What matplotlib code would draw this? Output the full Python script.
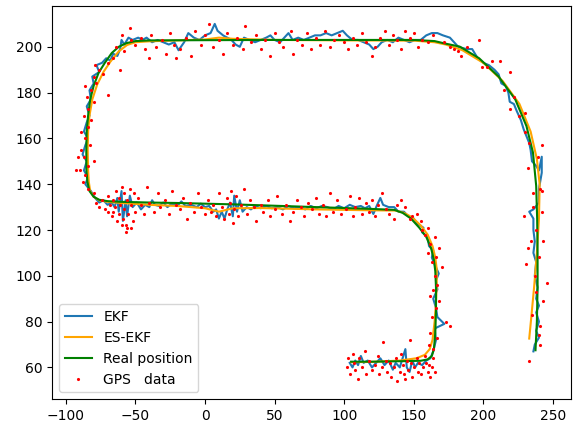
import matplotlib
matplotlib.use("Agg")
import matplotlib.pyplot as plt

# ground truth trajectory (x, y)
real_pts = [(105, 62.5), (120, 62.5), (140, 62.7), (155, 62.9), (160, 63.5), (163, 65), (164.5, 68),
            (165.5, 75), (166, 85), (166, 95), (165.5, 102), (164.5, 107), (162.5, 112), (159, 117),
            (154, 121), (148, 125), (142, 127.5), (136, 128.8), (120, 129.2), (100, 129.6), (80, 130),
            (60, 130.4), (40, 130.8), (20, 131.2), (0, 131.5), (-20, 131.8), (-40, 132), (-60, 132.3),
            (-70, 132.6), (-76, 133.2), (-80, 134.5), (-83, 137), (-84.5, 141), (-85.2, 146), (-85.3, 155),
            (-85, 163), (-84, 170), (-82.5, 177), (-80, 183), (-76.5, 188.6), (-72, 193), (-67, 197.3),
            (-62, 200), (-56.5, 201.6), (-50, 202.5), (-40, 202.8), (0, 202.9), (50, 203), (100, 203),
            (150, 203), (165, 202.5), (172, 201.5), (183, 200.1), (197, 195), (211, 187), (223, 177),
            (231, 165.4), (235.7, 153.8), (238, 139.3), (238.7, 125), (239, 110), (239, 95), (238.5, 80),
            (237.5, 67.5)]

# error-state EKF estimate
es_pts = [(105, 62.3), (120, 62.4), (140, 63), (152, 64), (158, 65.5), (161.5, 68), (163.5, 72), (165, 80),
          (166, 88), (166.5, 96), (166.5, 103), (165.5, 108), (163.5, 113), (160, 118), (155, 122),
          (149, 125.5), (143, 127.5), (137, 128.5), (120, 128.6), (100, 128.8), (80, 129), (60, 129.3),
          (40, 129.6), (20, 129.5), (10, 128), (0, 129.5), (-20, 130.5), (-40, 131), (-60, 131.8),
          (-70, 132.3), (-76, 133), (-80, 134.5), (-82.5, 137), (-83.5, 141), (-84, 146), (-84.3, 155),
          (-84, 163), (-83, 170), (-81, 177), (-77.5, 183.5), (-73, 189), (-68, 193.5), (-62, 198),
          (-56, 200.8), (-50, 202), (-40, 202.4), (0, 203.2), (10, 204), (20, 203.5), (50, 203),
          (100, 202.8), (150, 202.7), (165, 202), (173, 201), (185, 198.5), (200, 193), (214, 185),
          (226, 175), (234, 163), (238.5, 151), (240.5, 140), (240, 125), (238.5, 110), (236.5, 95),
          (234.5, 82), (233, 72.6)]

# plain EKF estimate
ekf_pts = [(104, 62), (106, 60), (108, 63), (110, 61), (112, 65), (114, 62), (117, 63), (120, 60),
           (123, 62), (126, 64), (129, 61), (132, 63), (135, 59), (137, 62), (140, 60), (142, 64),
           (144, 68), (145, 60), (147, 58), (149, 63), (151, 60), (153, 62), (156, 61), (159, 63),
           (162, 64), (164, 67), (166, 72), (165, 77), (172, 79), (167, 82), (166, 86), (164, 90),
           (167, 94), (166, 98), (168, 101), (165, 105), (163, 108), (164, 111), (161, 113), (160, 117),
           (156, 119), (157, 121), (152, 123), (150, 125), (146, 126), (143, 128), (139, 128), (136, 130),
           (132, 130), (128, 131), (126, 134), (123, 130), (121, 127), (118, 130.5), (115, 129.5),
           (112, 130.5), (108, 130), (104, 131), (100, 129.5), (96, 130.5), (92, 129), (88, 130),
           (84, 130.5), (80, 129.5), (76, 130.5), (72, 129), (68, 130), (64, 129.5), (60, 130.5),
           (56, 129), (52, 130), (48, 129.5), (44, 130.5), (40, 129.5), (36, 130.5), (33, 129), (30, 130),
           (27, 128), (25, 133), (23, 128), (21, 135), (20, 126), (18, 132), (16, 129), (14, 125),
           (12, 128), (10, 125), (8, 129), (6, 128), (3, 130.5), (0, 130), (-3, 131.5), (-6, 130),
           (-10, 131), (-14, 130.5), (-17, 132.5), (-20, 130.5), (-24, 131.5), (-27, 130), (-30, 132),
           (-33, 130.5), (-36, 131), (-38, 133), (-40, 130), (-43, 131), (-46, 129), (-49, 132),
           (-52, 130), (-54, 135), (-56, 126), (-57, 133), (-59, 124), (-60, 137), (-62, 128), (-63, 134),
           (-65, 130), (-67, 132), (-70, 131), (-73, 133), (-76, 132), (-79, 134), (-82, 137), (-86, 140),
           (-84, 143), (-87, 146), (-85, 150), (-88, 153), (-86, 157), (-84, 160), (-87, 163), (-85, 167),
           (-83, 170), (-85, 174), (-82, 177), (-83, 181), (-80, 184), (-81, 187), (-76, 189), (-78, 192),
           (-74, 193), (-71, 195), (-68, 194), (-66, 197), (-63, 196), (-61, 199), (-60, 203), (-58, 201),
           (-55, 204), (-52, 203), (-48, 204), (-45, 203), (-42, 204), (-38, 202), (-34, 203), (-30, 202),
           (-26, 201), (-22, 202), (-19, 198.5), (-15, 202), (-12, 206), (-8, 204), (-4, 203), (0, 205),
           (4, 206), (7, 210), (9, 207), (13, 205), (16, 204), (19, 203), (22, 201), (25, 200), (28, 204),
           (32, 203), (36, 202), (40, 203), (44, 204), (47, 205), (50, 203), (54, 202), (57, 204),
           (60, 206), (63, 203), (67, 204), (71, 203), (75, 204), (79, 205), (83, 205), (87, 206),
           (91, 205), (95, 206), (99, 207), (102, 205), (106, 203), (110, 203), (114, 202), (118, 201),
           (121, 199), (124, 200), (127, 202), (131, 203), (135, 202), (139, 204), (143, 203), (147, 202),
           (151, 203), (155, 203), (159, 205), (163, 206), (167, 206), (171, 205), (176, 204), (182, 200),
           (188, 199), (192, 199), (196, 195), (200, 193), (204, 192), (208, 190), (211, 188), (213, 184),
           (216, 183), (218, 180), (219, 176), (222, 175), (224, 172), (227, 168), (229, 164), (231, 161),
           (233, 158), (234, 155), (235, 150), (238, 148), (240, 146), (242, 152), (242, 145), (240, 138),
           (240, 132), (236, 129), (233, 128), (236, 125), (236, 120), (237, 115), (236, 110), (238, 106),
           (237, 100), (239, 95), (238, 90), (240, 87), (238, 84), (240, 80), (238, 76), (240, 73),
           (237, 70), (236, 67)]

# noisy GPS fixes
gps_pts = [
    # lower segment
    (102, 60), (103, 64), (104, 57), (106, 66), (107, 62), (108, 59), (110, 55), (111, 64), (113, 60),
    (115, 67), (116, 57), (118, 63), (120, 59), (122, 61), (124, 65), (125, 57), (127, 60), (128, 71),
    (130, 63), (131, 58), (133, 62), (134, 56), (136, 60), (137, 64), (138, 54), (140, 58), (141, 66),
    (142, 61), (143, 57), (144, 55), (145, 63), (146, 59), (147, 72), (148, 62), (149, 56), (150, 60),
    (152, 64), (153, 58), (154, 62), (155, 57), (157, 60), (158, 65), (159, 62), (160, 58), (161, 61),
    (162, 56), (163, 60), (164, 64), (165, 58),
    # lower right bend
    (164, 68), (161, 70), (167, 73), (162, 75), (176, 78), (173, 80), (163, 82), (166, 86), (168, 89),
    (162, 91), (164, 94), (167, 96), (165, 100), (170, 104), (163, 106), (166, 108), (160, 110),
    (168, 112), (162, 114), (158, 118), (165, 117), (156, 120), (160, 121), (155, 124), (149, 126),
    (152, 127), (147, 125), (144, 130), (141, 133), (138, 131), (136, 125), (132, 127),
    # middle segment
    (130, 129), (127, 136), (124, 131), (122, 126), (120, 133), (118, 128), (116, 132), (113, 127),
    (111, 134), (108, 130), (106, 126), (104, 135), (101, 129), (98, 127), (95, 133), (92, 128),
    (90, 136), (87, 126), (85, 131), (82, 127), (80, 134), (77, 129), (74, 132), (71, 126), (69, 130),
    (66, 133), (63, 128), (61, 124), (58, 131), (55, 127), (52, 135), (50, 129), (47, 126), (45, 133),
    (42, 128), (40, 131), (37, 124), (35, 130), (32, 133), (30, 127), (28, 138), (26, 131), (24, 126),
    (22, 135), (21, 129), (20, 123), (19, 137), (18, 132), (17, 127), (16, 134), (14, 125), (12, 130),
    (10, 136), (8, 126), (6, 131), (4, 128), (2, 133), (0, 127), (-3, 130), (-5, 136), (-8, 128),
    (-11, 132), (-13, 125), (-16, 134), (-18, 129), (-21, 131), (-24, 137), (-26, 127), (-29, 133),
    (-32, 130), (-34, 136), (-37, 128), (-40, 132), (-42, 139), (-44, 127), (-46, 131), (-48, 134),
    (-50, 128), (-51, 136), (-52, 124), (-53, 131), (-54, 138), (-55, 127), (-56, 133), (-57, 122),
    (-58, 136), (-58, 129), (-59, 125), (-60, 139), (-61, 131), (-62, 127), (-62, 134), (-63, 124),
    (-64, 137), (-65, 130), (-66, 133), (-67, 126), (-68, 131), (-70, 135), (-72, 129), (-74, 133),
    (-76, 130), (-78, 132), (-57, 119), (-56, 121), (-60, 122), (-53, 121), (-66, 128), (-70, 128),
    # left side
    (-80, 136), (-84, 138), (-88, 141), (-86, 144), (-90, 146), (-84, 148), (-80, 150), (-87, 152),
    (-89, 155), (-83, 157), (-86, 160), (-89, 163), (-84, 165), (-82, 168), (-87, 170), (-84, 173),
    (-80, 176), (-85, 178), (-82, 181), (-86, 183), (-78, 184), (-70, 179), (-80, 187), (-76, 190),
    (-73, 188), (-79, 192), (-70, 193), (-66, 195), (-61, 190), (-64, 200), (-58, 198), (-54, 208),
    (-60, 205), (-53, 203), (-93, 146), (-91, 152),
    # upper segment
    (-50, 201), (-46, 204), (-43, 199), (-40, 195), (-39, 205), (-35, 200), (-31, 203), (-28, 197),
    (-25, 206), (-21, 195), (-22, 201), (-18, 199), (-14, 204), (-10, 196), (-7, 207), (-3, 201),
    (0, 205), (3, 210), (6, 200), (10, 203), (13, 197), (16, 206), (20, 201), (23, 204), (27, 199),
    (29, 209), (33, 202), (37, 205), (40, 199), (43, 203), (47, 196), (50, 206), (53, 202), (56, 200),
    (62, 207), (63, 197), (66, 203), (70, 201), (73, 206), (76, 199), (80, 204), (83, 201), (86, 207),
    (90, 200), (93, 203), (96, 205), (100, 202), (103, 199), (106, 204), (109, 201), (113, 206),
    (116, 202), (120, 196), (122, 200), (126, 204), (129, 207), (132, 201), (135, 205), (138, 203),
    (141, 199), (144, 207), (147, 204), (150, 206), (153, 200), (156, 203), (160, 202), (164, 205),
    # right bend and right side
    (172, 202), (176, 200), (179, 199), (182, 198), (184, 196), (188, 200), (197, 203), (199, 191),
    (203, 191), (206, 194), (212, 194), (215, 181), (219, 189), (219, 173), (222, 178), (226, 170),
    (230, 171), (230, 163), (233, 158), (232, 147), (236, 136), (242, 157), (239, 152), (242, 137),
    (242, 128), (229, 126), (232, 112), (231, 105), (234, 115), (243, 115), (238, 120), (246, 97),
    (243, 89), (237, 100), (235, 83), (241, 78), (240, 74), (233, 63), (241, 70), (241, 138),
    (238, 93), (240, 108), (236, 130)]

ekf_x, ekf_y = zip(*ekf_pts)
es_x, es_y = zip(*es_pts)
real_x, real_y = zip(*real_pts)
gps_x, gps_y = zip(*gps_pts)

fig = plt.figure(figsize=(5.74, 4.23), dpi=100)
ax = fig.add_axes([0.0906, 0.0567, 0.904, 0.929])

ax.plot(ekf_x, ekf_y, label='EKF')
ax.plot(es_x, es_y, color='orange', label='ES-EKF')
ax.plot(real_x, real_y, color='green', label='Real position')
ax.plot(gps_x, gps_y, 'r.', markersize=2.5, label='GPS   data')

ax.legend(loc='lower left')
fig.savefig('out.png', dpi=100)
